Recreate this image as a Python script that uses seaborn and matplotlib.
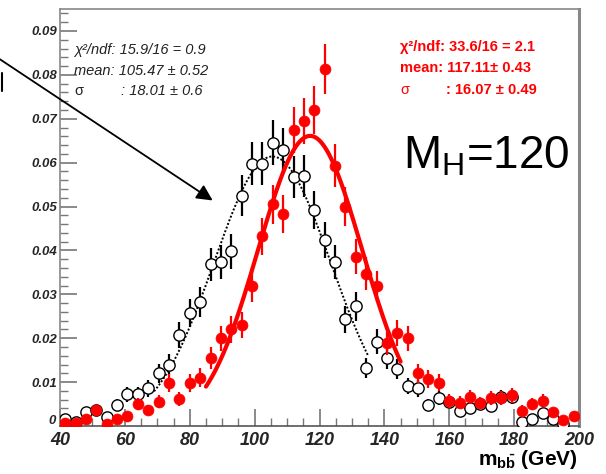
import numpy as np
import pandas as pd
import seaborn as sns
import matplotlib.pyplot as plt
from matplotlib.lines import Line2D
from matplotlib.ticker import MultipleLocator, FuncFormatter

# bin centres (50 bins of 3.2 GeV between 40 and 200)
mass = np.arange(41.6, 200, 3.2)

# open black circles
black_y = [0.0017, 0.0010, 0.0031, 0.0036, 0.0020, 0.0048, 0.0072, 0.0072, 0.0086, 0.0120,
           0.0140, 0.0207, 0.0258, 0.0283, 0.0368, 0.0373, 0.0398, 0.0525, 0.0598, 0.0598,
           0.0645, 0.0629, 0.0567, 0.0569, 0.0492, 0.0424, 0.0373, 0.0243, 0.0273, 0.0133,
           0.0192, 0.0154, 0.0129, 0.0091, 0.0086, 0.0048, 0.0064, 0.0055, 0.0035, 0.0042,
           0.0050, 0.0045, 0.0065, 0.0065, 0.0010, 0.0017, 0.0030, 0.0015, 0.0005, np.nan]
black_err = [0.0008, 0.0006, 0.0011, 0.0012, 0.0009, 0.0014, 0.0017, 0.0017, 0.0019, 0.0022,
             0.0024, 0.0029, 0.0032, 0.0034, 0.0038, 0.0039, 0.0040, 0.0046, 0.0049, 0.0049,
             0.0051, 0.0050, 0.0048, 0.0048, 0.0044, 0.0041, 0.0039, 0.0031, 0.0033, 0.0023,
             0.0028, 0.0025, 0.0023, 0.0019, 0.0019, 0.0014, 0.0016, 0.0015, 0.0012, 0.0013,
             0.0014, 0.0013, 0.0016, 0.0016, 0.0006, 0.0008, 0.0011, 0.0008, 0.0004, np.nan]

# filled red circles
red_y = [0.0006, 0.0006, 0.0017, 0.0036, 0.0004, 0.0017, 0.0023, 0.0050, 0.0036, 0.0055,
         0.0098, 0.0061, 0.0098, 0.0110, 0.0154, 0.0200, 0.0220, 0.0230, 0.0318, 0.0432,
         0.0505, 0.0483, 0.0674, 0.0695, 0.0720, 0.0814, 0.0593, 0.0500, 0.0386, 0.0347,
         0.0318, 0.0188, 0.0212, 0.0200, 0.0120, 0.0107, 0.0099, 0.0057, 0.0053, 0.0065,
         0.0052, 0.0064, 0.0064, 0.0070, 0.0035, 0.0050, 0.0058, 0.0031, 0.0014, 0.0023]
red_err = [0.0005, 0.0005, 0.0008, 0.0012, 0.0004, 0.0008, 0.0010, 0.0014, 0.0012, 0.0015,
           0.0020, 0.0016, 0.0020, 0.0021, 0.0025, 0.0028, 0.0030, 0.0030, 0.0036, 0.0042,
           0.0045, 0.0044, 0.0052, 0.0053, 0.0054, 0.0057, 0.0049, 0.0045, 0.0039, 0.0037,
           0.0036, 0.0027, 0.0029, 0.0028, 0.0022, 0.0021, 0.0020, 0.0015, 0.0015, 0.0016,
           0.0014, 0.0016, 0.0016, 0.0017, 0.0012, 0.0014, 0.0015, 0.0011, 0.0007, 0.0010]

# gaussian fit parameters (amplitude)
black_fit = dict(amp=0.0614, mean=105.47, sigma=18.01, lo=69, hi=135)
red_fit = dict(amp=0.0661, mean=117.11, sigma=16.07, lo=85, hi=145)

black_text = ["\u03c7\u00b2/ndf: 15.9/16 = 0.9", "mean: 105.47 \u00b1 0.52", "\u03c3", ": 18.01 \u00b1 0.6"]
red_text = ["\u03c7\u00b2/ndf: 33.6/16 = 2.1", "mean: 117.11\u00b1 0.43", "\u03c3", ": 16.07 \u00b1 0.49"]

df = pd.DataFrame({"mass": mass, "black": black_y, "black_err": black_err,
                   "red": red_y, "red_err": red_err})


def gauss_curve(p):
    xs = np.linspace(p["lo"], p["hi"], 200)
    return xs, p["amp"] * np.exp(-0.5 * ((xs - p["mean"]) / p["sigma"]) ** 2)


sns.set_theme(style="white")
plt.rcParams["font.family"] = ["Liberation Sans", "DejaVu Sans"]
plt.rcParams["mathtext.fontset"] = "custom"
plt.rcParams["mathtext.rm"] = "Liberation Sans"
plt.rcParams["mathtext.bf"] = "Liberation Sans:bold"
plt.rcParams["mathtext.it"] = "Liberation Sans:italic"

fig = plt.figure(figsize=(6.06, 4.74), dpi=100)
ax = fig.add_axes([60 / 606, 1 - 426 / 474, 519 / 606, 417 / 474])

# black histogram + fit
ax.errorbar(df["mass"], df["black"], yerr=df["black_err"], fmt="none",
            ecolor="black", elinewidth=1.6, capsize=0, zorder=2)
xs, ys = gauss_curve(black_fit)
sns.lineplot(x=xs, y=ys, ax=ax, color="black", linestyle=(0, (1, 1)), linewidth=1.4, zorder=2.5)
sns.scatterplot(data=df, x="mass", y="black", ax=ax, marker="o", s=66,
                color="white", edgecolor="black", linewidth=1.0, zorder=3)

# red histogram + fit
ax.errorbar(df["mass"], df["red"], yerr=df["red_err"], fmt="none",
            ecolor="#ff0000", elinewidth=1.6, capsize=0, zorder=4)
xs, ys = gauss_curve(red_fit)
sns.lineplot(x=xs, y=ys, ax=ax, color="#ff0000", linewidth=3, zorder=4.5)
sns.scatterplot(data=df, x="mass", y="red", ax=ax, marker="o", s=62,
                color="#ff0000", edgecolor="#ff0000", linewidth=0.5, zorder=5)

ax.set_xlim(40, 200)
ax.set_ylim(0, 0.095)
ax.set_xlabel("")
ax.set_ylabel("")
ax.xaxis.set_major_locator(MultipleLocator(20))
ax.xaxis.set_minor_locator(MultipleLocator(5))
ax.yaxis.set_major_locator(MultipleLocator(0.01))
ax.yaxis.set_minor_locator(MultipleLocator(0.002))
# the "0" label is placed by hand a bit higher so it clears the "40"
ax.yaxis.set_major_formatter(FuncFormatter(lambda v, p: "" if abs(v) < 1e-9 else f"{v:.2f}"))
ax.tick_params(which="major", direction="in", length=12, width=1.2, color="#777777",
               left=True, bottom=True, top=False, right=False)
ax.tick_params(which="minor", direction="in", length=6, width=1.0, color="#777777",
               left=True, bottom=True, top=False, right=False)
ax.tick_params(axis="x", pad=4)
ax.tick_params(axis="y", pad=2)
for lab in ax.get_xticklabels():
    lab.set_fontsize(13)
    lab.set_fontweight("bold")
    lab.set_fontstyle("italic")
for lab in ax.get_yticklabels():
    lab.set_fontsize(9.5)
    lab.set_fontweight("bold")
    lab.set_fontstyle("italic")
fig.text(56 / 606, 1 - 421 / 474, "0", fontsize=9.5, weight="bold", style="italic",
         ha="right", va="center")
for side, sp in ax.spines.items():
    sp.set_color("#888888")
    sp.set_linewidth(1.2)
ax.spines["right"].set_linewidth(2.2)
ax.spines["bottom"].set_color("#555555")

# fit boxes
fs = 10.5
fig.text(74 / 606, 1 - 50 / 474, black_text[0], fontsize=fs, style="italic", color="#222222", va="center")
fig.text(74 / 606, 1 - 71 / 474, black_text[1], fontsize=fs, style="italic", color="#222222", va="center")
fig.text(74 / 606, 1 - 91 / 474, black_text[2], fontsize=fs, color="#222222", va="center")
fig.text(121 / 606, 1 - 91 / 474, black_text[3], fontsize=fs, style="italic", color="#222222", va="center")

fig.text(400 / 606, 1 - 47 / 474, red_text[0], fontsize=fs, weight="bold", color="#ff0000", va="center")
fig.text(400 / 606, 1 - 68 / 474, red_text[1], fontsize=fs, weight="bold", color="#ff0000", va="center")
fig.text(400 / 606, 1 - 90 / 474, red_text[2], fontsize=fs, color="#ff0000", va="center")
fig.text(446 / 606, 1 - 90 / 474, red_text[3], fontsize=fs, weight="bold", color="#ff0000", va="center")

fig.text(403 / 606, 1 - 168 / 474, r"M$_\mathrm{H}$=120", fontsize=33, color="black", va="baseline")

fig.text(578 / 606, 1 - 465 / 474, r"m$_{\mathbf{b\bar{b}}}$ (GeV)", fontsize=15,
         weight="bold", color="black", ha="right", va="baseline")

# arrow pointing at the black fit
ax.annotate("", xy=(215, 474 - 202), xycoords="figure pixels",
            xytext=(-5, 474 - 56), textcoords="figure pixels",
            arrowprops=dict(arrowstyle="-|>", color="black", lw=1.3, mutation_scale=24),
            annotation_clip=False)
fig.add_artist(Line2D([1.5 / 606, 1.5 / 606], [1 - 73 / 474, 1 - 91 / 474], color="black", lw=1.5))

plt.savefig("out.png", dpi=100)
plt.close()
